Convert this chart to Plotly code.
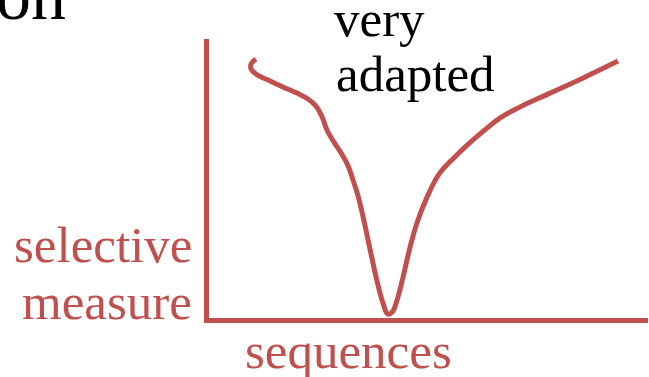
import plotly.graph_objects as go

# Curve: x = position along "sequences", y = "selective measure"
seq_x = [11.1, 10.0, 10.0, 11.1, 14.3, 17.2, 20.4, 22.9, 24.7, 26.1, 27.2, 28.6,
         30.4, 32.0, 33.1, 34.2, 35.4, 37.0, 38.5, 39.9, 41.0, 42.0, 43.1, 44.4,
         46.0, 47.6, 49.9, 52.8, 56.2, 59.0, 63.0, 66.4, 71.0, 77.8, 85.3, 93.2]
sel_y = [93.2, 91.5, 89.7, 87.9, 85.4, 83.3, 81.1, 79.0, 76.5, 72.6, 68.0, 64.1,
         59.8, 55.2, 50.2, 44.8, 37.0, 25.3, 14.6, 6.4, 2.5, 3.2, 7.5, 15.3,
         26.0, 34.9, 44.1, 52.7, 58.4, 62.6, 68.0, 72.2, 76.2, 81.1, 86.5, 92.5]

RED = "#C0504D"
FONT = "Liberation Serif"

fig = go.Figure()
fig.add_trace(go.Scatter(
    x=seq_x, y=sel_y, mode="lines",
    line=dict(color=RED, width=5, shape="spline", smoothing=1.2),
    cliponaxis=False, hoverinfo="skip", showlegend=False,
))

def ann(text, x, y, xanchor, color, size):
    fig.add_annotation(text=text, x=x, y=y, xref="paper", yref="paper",
                       xanchor=xanchor, yanchor="bottom", showarrow=False,
                       font=dict(family=FONT, size=size, color=color))

ann("very", 0.281, 0.964, "left", "black", 51)
ann("adapted", 0.2856, 0.767, "left", "black", 51)
ann("selective", -0.0342, 0.154, "right", RED, 51)
ann("measure", -0.0342, -0.0502, "right", RED, 51)
ann("sequences", 0.078, -0.2258, "left", RED, 51)
ann("on", -0.3212, 1.0108, "right", "black", 70)

fig.update_layout(
    width=649, height=377,
    margin=dict(l=209, r=1, t=39, b=59),
    paper_bgcolor="white", plot_bgcolor="white",
    xaxis=dict(range=[0.45, 100.0], showline=True, linecolor=RED, linewidth=5,
               showgrid=False, zeroline=False, showticklabels=False, ticks=""),
    yaxis=dict(range=[1.07, 100.36], showline=True, linecolor=RED, linewidth=5,
               showgrid=False, zeroline=False, showticklabels=False, ticks=""),
)

fig.write_html("out.html", config={"displayModeBar": False},
               post_script="document.body.style.margin='0';document.body.style.overflow='hidden';")
